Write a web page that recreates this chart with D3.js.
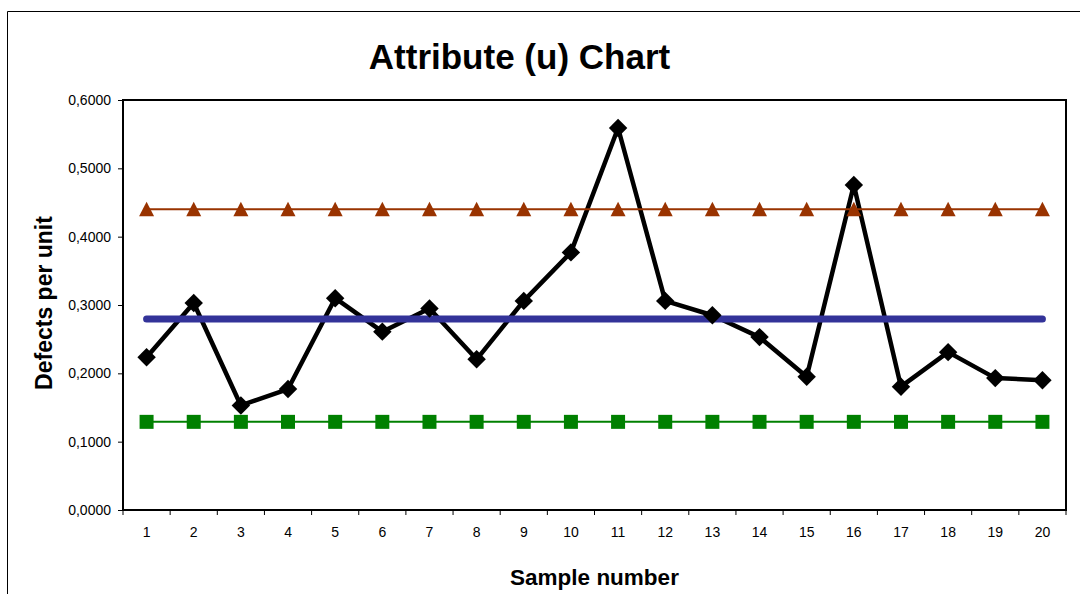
<!DOCTYPE html>
<meta charset="utf-8">
<script src="https://d3js.org/d3.v7.min.js"></script>
<style>
  body { margin: 0; background: #fff; }
  text { font-family: "Liberation Sans", Arial, sans-serif; fill: #000; }
</style>
<svg width="1080" height="594"></svg>
<script>

    const samples = ["1", "2", "3", "4", "5", "6", "7", "8", "9", "10",
        "11", "12", "13", "14", "15", "16", "17", "18", "19", "20"];
    const uValues = [0.2235, 0.303, 0.153, 0.177, 0.310, 0.261, 0.295, 0.2205, 0.306, 0.377,
        0.559, 0.306, 0.285, 0.253, 0.195, 0.4755, 0.1805, 0.231, 0.193, 0.190];
    const centerValue = 0.2795;
    const uclValue = 0.440;
    const lclValue = 0.129;
    const yTicks = [0, 0.1, 0.2, 0.3, 0.4, 0.5, 0.6];

    const width = 1080, height = 594;
    const plot = {left: 123, right: 1066, top: 100, bottom: 510};

    const svg = d3.select('svg')

    // outer chart frame
    svg.append('path')
        .attr('d', 'M7.5,' + height + 'V11.5H' + width)
        .attr('fill', 'none')
        .attr('stroke', '#000')
        .attr('stroke-width', 1)

    const x = d3.scaleBand()
        .domain(samples)
        .range([plot.left, plot.right])
        .padding(0)

    const y = d3.scaleLinear()
        .domain([0, 0.6])
        .range([plot.bottom, plot.top])

    const cx = s => x(s) + x.bandwidth() / 2

    const fmt = v => d3.format('.4f')(v).replace('.', ',')

    // y axis
    const yAxis = svg.append('g')
        .attr('transform', 'translate(' + plot.left + ',0)')
        .call(d3.axisLeft(y).tickValues(yTicks).tickFormat(fmt).tickSize(5).tickPadding(7))
    yAxis.select('.domain').remove()
    yAxis.selectAll('text').style('font-size', '14px').style('font-family', '"Liberation Sans", Arial, sans-serif')
    yAxis.selectAll('line').attr('stroke', '#000')

    // x axis labels
    const xAxis = svg.append('g')
        .attr('transform', 'translate(0,' + plot.bottom + ')')
        .call(d3.axisBottom(x).tickSize(0).tickPadding(17))
    xAxis.select('.domain').remove()
    xAxis.selectAll('text').style('font-size', '14px').style('font-family', '"Liberation Sans", Arial, sans-serif')

    // x ticks between categories
    const bounds = samples.map(s => x(s)).concat([x.range()[1]])
    svg.append('g').selectAll('line')
        .data(bounds)
        .enter().append('line')
        .attr('x1', d => d).attr('x2', d => d)
        .attr('y1', plot.bottom).attr('y2', plot.bottom + 5)
        .attr('stroke', '#000')

    // plot border
    svg.append('rect')
        .attr('x', plot.left)
        .attr('y', plot.top)
        .attr('width', plot.right - plot.left)
        .attr('height', plot.bottom - plot.top)
        .attr('fill', 'none')
        .attr('stroke', '#000')
        .attr('stroke-width', 2)

    const data = samples.map((s, i) => ({s: s, u: uValues[i]}))

    const line = d3.line().x(d => cx(d.s)).y(d => y(d.u))

    // lines
    svg.append('path')
        .datum(data)
        .attr('d', line)
        .attr('fill', 'none')
        .attr('stroke', '#000')
        .attr('stroke-width', 4.5)
        .attr('stroke-linejoin', 'round')

    const hline = (v, color, w, cap) => svg.append('line')
        .attr('x1', cx(samples[0])).attr('x2', cx(samples[samples.length - 1]))
        .attr('y1', y(v)).attr('y2', y(v))
        .attr('stroke', color)
        .attr('stroke-width', w)
        .attr('stroke-linecap', cap)

    hline(centerValue, '#333399', 7, 'round')
    hline(uclValue, '#993300', 2, 'butt')
    hline(lclValue, '#008000', 2, 'butt')

    // markers
    svg.append('g').selectAll('path')
        .data(data)
        .enter().append('path')
        .attr('d', d3.symbol(d3.symbolSquare, 170))
        .attr('transform', d => 'translate(' + cx(d.s) + ',' + y(d.u) + ') rotate(45)')
        .attr('fill', '#000')

    svg.append('g').selectAll('path')
        .data(samples)
        .enter().append('path')
        .attr('d', 'M0,-7.5L7.5,7L-7.5,7Z')
        .attr('transform', d => 'translate(' + cx(d) + ',' + y(uclValue) + ')')
        .attr('fill', '#993300')

    svg.append('g').selectAll('path')
        .data(samples)
        .enter().append('path')
        .attr('d', d3.symbol(d3.symbolSquare, 196))
        .attr('transform', d => 'translate(' + cx(d) + ',' + y(lclValue) + ')')
        .attr('fill', '#008000')

    // titles
    svg.append('text')
        .attr('x', 519.5)
        .attr('y', 69)
        .attr('text-anchor', 'middle')
        .style('font-size', '35px')
        .style('font-weight', 'bold')
        .text('Attribute (u) Chart')

    svg.append('text')
        .attr('transform', 'translate(52,' + ((plot.top + plot.bottom) / 2 - 2) + ') rotate(-90)')
        .attr('text-anchor', 'middle')
        .style('font-size', '23px')
        .style('font-weight', 'bold')
        .text('Defects per unit')

    svg.append('text')
        .attr('x', (plot.left + plot.right) / 2)
        .attr('y', 585)
        .attr('text-anchor', 'middle')
        .style('font-size', '22.5px')
        .style('font-weight', 'bold')
        .text('Sample number')

</script>
